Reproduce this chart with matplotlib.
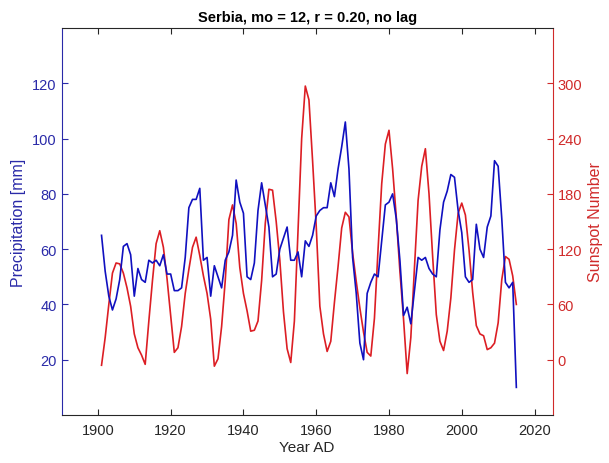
import numpy as np
import matplotlib
matplotlib.use('Agg')
import matplotlib.pyplot as plt

plt.rcParams['font.family'] = ['Liberation Sans', 'DejaVu Sans']

## Datos
years = np.arange(1901, 2016)

precip = [65, 52, 43, 38, 42, 49, 61, 62, 58, 43,
          53, 49, 48, 56, 55, 56, 54, 58, 51, 51,
          45, 45, 46, 57, 75, 78, 78, 82, 56, 57,
          43, 54, 50, 46, 56, 59, 65, 85, 77, 73,
          50, 49, 55, 74, 84, 76, 68, 50, 51, 60,
          64, 68, 56, 56, 59, 50, 63, 61, 65, 72,
          74, 75, 75, 84, 79, 89, 97, 106, 89, 57,
          44, 26, 20, 44, 48, 51, 50, 63, 76, 77,
          80, 71, 56, 36, 39, 33, 45, 57, 56, 57,
          53, 51, 50, 67, 77, 81, 87, 86, 74, 66,
          50, 48, 49, 69, 60, 57, 68, 72, 92, 90,
          71, 48, 46, 48, 10]

sunspots = [-6, 24, 60, 94, 105, 104, 94, 78, 58, 28,
            13, 5, -5, 42, 86, 126, 140, 122, 88, 48,
            8, 13, 36, 72, 98, 122, 133, 113, 91, 72,
            44, -7, 1, 36, 86, 152, 168, 148, 100, 72,
            53, 31, 32, 42, 86, 148, 185, 184, 150, 108,
            52, 12, -3, 42, 140, 240, 297, 282, 216, 145,
            58, 28, 9, 20, 62, 101, 143, 160, 155, 116,
            85, 56, 30, 8, 4, 45, 120, 191, 234, 249,
            207, 155, 96, 44, -15, 24, 100, 173, 210, 229,
            180, 112, 49, 20, 10, 31, 67, 119, 159, 170,
            157, 119, 73, 37, 28, 26, 11, 13, 18, 40,
            87, 112, 109, 91, 60]

x_ticks = [1900, 1920, 1940, 1960, 1980, 2000, 2020]
left_ticks = [20, 40, 60, 80, 100, 120]
right_ticks = [0, 60, 120, 180, 240, 300]

blue = '#1010c0'
blue_txt = '#2a2aa8'
red = '#dc1e24'
red_txt = '#d02a2a'
grey = '#262626'

## Figura
fig = plt.figure(figsize=(6.09, 4.64), dpi=100)
ax = fig.add_axes([0.101, 0.1034, 0.8066, 0.8341])
ax2 = ax.twinx()

ax.plot(years, precip, color=blue, lw=1.2, zorder=3)
ax2.plot(years, sunspots, color=red, lw=1.2)

ax.set_xlim(1890, 2025)
ax.set_ylim(0, 140)
ax2.set_ylim(-60, 360)

ax.set_xticks(x_ticks)
ax.set_yticks(left_ticks)
ax2.set_yticks(right_ticks)

ax.tick_params(axis='x', direction='in', top=True, colors=grey, labelsize=10.5, length=4, pad=6)
ax.tick_params(axis='y', direction='in', colors=blue_txt, labelsize=10.5, length=4)
ax2.tick_params(axis='y', direction='in', colors=red_txt, labelsize=10.5, length=4)

ax.spines['left'].set_color(blue_txt)
ax.spines['right'].set_visible(False)
ax.spines['top'].set_color(grey)
ax.spines['bottom'].set_color(grey)
for s in ['left', 'top', 'bottom']:
    ax2.spines[s].set_visible(False)
ax2.spines['right'].set_color(red_txt)

ax.set_xlabel('Year AD', fontsize=11, color=grey, labelpad=2)
ax.set_ylabel('Precipitation [mm]', fontsize=11.5, color=blue_txt)
ax2.set_ylabel('Sunspot Number', fontsize=11.5, color=red_txt)
ax.set_title('Serbia, mo = 12, r = 0.20, no lag', fontsize=10.5, fontweight='bold', pad=5)

ax.set_zorder(ax2.get_zorder() + 1)
ax.patch.set_visible(False)

fig.savefig('out.png', dpi=100)
